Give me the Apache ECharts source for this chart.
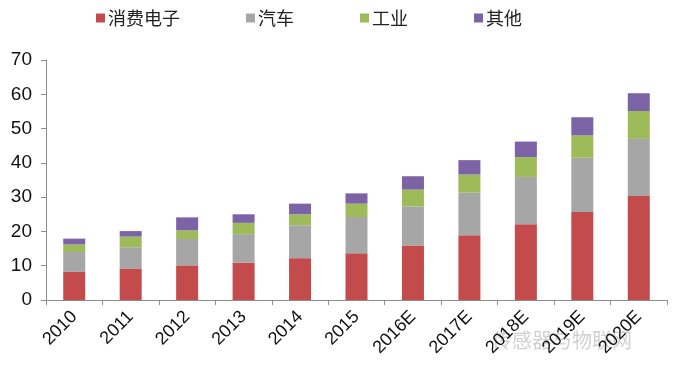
<!DOCTYPE html>
<html><head><meta charset="utf-8">
<script src="https://cdn.jsdelivr.net/npm/echarts@6/dist/echarts.min.js"></script>
<style>html,body{margin:0;padding:0;background:#fff}#c{width:680px;height:366px}</style>
</head><body><div id="c"></div>
<script>
const categories = ['2010','2011','2012','2013','2014','2015','2016E','2017E','2018E','2019E','2020E'];
const consumer = [8.2, 9.2, 10.1, 10.9, 12.2, 13.6, 15.9, 18.9, 22.1, 25.7, 30.3];
const auto = [5.8, 6.2, 7.7, 8.3, 9.6, 10.6, 11.4, 12.4, 13.8, 15.8, 16.7];
const industry = [2.2, 3.1, 2.5, 3.3, 3.2, 3.9, 4.9, 5.3, 5.8, 6.5, 8.1];
const other = [1.7, 1.6, 3.8, 2.5, 3.1, 3.0, 3.9, 4.2, 4.5, 5.3, 5.2];
const seriesNames = ['消费电子','汽车','工业','其他'];
const yTicks = [0,10,20,30,40,50,60,70];

const colors = ['#c44b4b','#a6a6a6','#9dbb59','#7c63a6'];
const chart = echarts.init(document.getElementById('c'));
const mk = (name, data, i) => ({
  name, type:'bar', stack:'s', data, barWidth:22,
  itemStyle:{color:colors[i]}
});
chart.setOption({
  animation:false,
  legend:{
    left:91, top:4, itemWidth:9, itemHeight:9, itemGap:66,
    icon:'rect',
    textStyle:{fontFamily:'"Noto Sans CJK SC"', fontSize:18, color:'#222', padding:[0,0,0,-2]},
    data:seriesNames
  },
  grid:{left:46, right:13, top:60, bottom:66, containLabel:false},
  xAxis:{
    type:'category', data:categories,
    axisLine:{lineStyle:{color:'#8c8c8c', width:1}},
    axisTick:{show:true, length:5, lineStyle:{color:'#8c8c8c'}},
    axisLabel:{rotate:45, fontFamily:'Liberation Sans, Arial', fontSize:18, color:'#111', margin:14, interval:0}
  },
  yAxis:{
    type:'value', min:yTicks[0], max:yTicks[yTicks.length-1], interval:10,
    axisLine:{show:true, lineStyle:{color:'#8c8c8c'}},
    axisTick:{show:true, length:5, lineStyle:{color:'#8c8c8c'}},
    splitLine:{show:false},
    axisLabel:{fontFamily:'Liberation Sans, Arial', fontSize:19, color:'#111', margin:14}
  },
  graphic:[{
    type:'text', left:492, top:330,
    style:{text:'传感器与物联网', fill:'rgba(150,150,150,0.45)', font:'20px "Noto Sans CJK SC"'}
  }],
  series:[mk(seriesNames[0],consumer,0), mk(seriesNames[1],auto,1), mk(seriesNames[2],industry,2), mk(seriesNames[3],other,3)]
});
</script></body></html>
